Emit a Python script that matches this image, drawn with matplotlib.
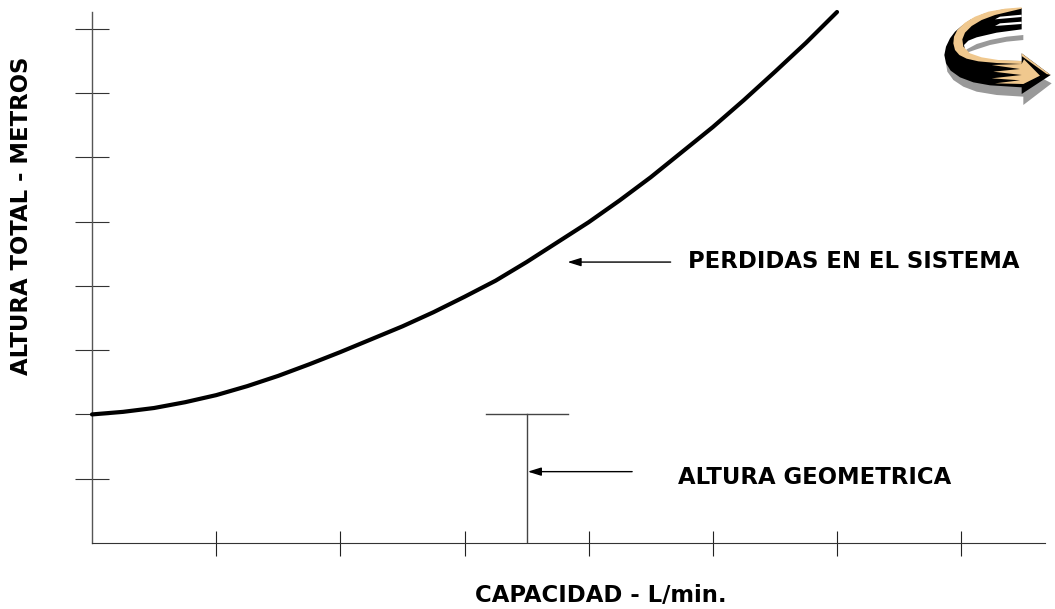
import matplotlib
matplotlib.use("Agg")
import matplotlib.pyplot as plt
from matplotlib.patches import Polygon

plt.rcParams['font.family'] = ['DejaVu Sans']

W, H = 1055, 609

# curve, axis units = one tick
capacidad = [0, 0.25, 0.5, 0.75, 1, 1.25, 1.5, 1.75, 2, 2.25, 2.5, 2.75, 3, 3.25, 3.5, 3.75, 4, 4.25, 4.5, 4.75,
             5, 5.25, 5.5, 5.75, 6]
altura = [2.0, 2.04, 2.10, 2.19, 2.30, 2.44, 2.60, 2.78, 2.97, 3.17, 3.37, 3.59, 3.83, 4.08, 4.37, 4.68, 4.99,
          5.33, 5.69, 6.08, 6.47, 6.89, 7.33, 7.78, 8.26]
x_ticks = [1, 2, 3, 4, 5, 6, 7]
y_ticks = [1, 2, 3, 4, 5, 6, 7, 8]
x_max = 7.675
y_max = 8.26

# geometric head marker
geo_x = 3.5
geo_y = 2
geo_left = 3.17
geo_right = 3.83

# icon outlines, in pixels of a 405x345 crop
icon_shadow = [(78, 190), (82, 215), (100, 240), (130, 260), (170, 275), (230, 285), (310, 290), (310, 315),
               (395, 250), (310, 205)]
icon_crescent = [(310, 105), (260, 110), (210, 120), (170, 132), (140, 148), (135, 160), (170, 148), (210, 135),
                 (260, 125), (310, 120)]
icon_body = [(105, 95), (90, 115), (78, 140), (73, 165), (78, 190), (92, 212), (120, 232), (160, 247), (210, 256),
             (305, 262), (305, 282), (392, 225), (305, 160), (305, 183), (235, 182), (185, 177), (150, 165),
             (135, 150), (132, 135), (145, 122), (170, 112), (230, 98), (305, 88), (305, 24), (240, 30), (190, 42),
             (150, 60), (125, 78)]
icon_tan_top = [(305, 22), (255, 26), (205, 35), (165, 50), (135, 68), (112, 90), (102, 110), (100, 130), (105, 150),
                (118, 165), (140, 176), (175, 184), (230, 189), (305, 192), (305, 183), (235, 180), (185, 172),
                (150, 160), (130, 140), (127, 118), (135, 98), (155, 78), (185, 60), (225, 45), (305, 26)]
icon_tan_head = [(305, 192), (215, 195), (300, 207), (220, 215), (305, 225), (215, 235), (300, 241), (225, 250),
                 (310, 252), (360, 227), (312, 178)]
icon_edge = [(305, 160), (392, 225), (380, 222), (305, 168)]
icon_slits = [[(305, 44), (240, 50), (225, 58), (305, 51)],
              [(305, 65), (240, 70), (225, 78), (305, 72)]]

fig = plt.figure(figsize=(W / 100, H / 100), dpi=100)
ax = fig.add_axes([92 / W, 1 - 543 / H, (1045 - 92) / W, (543 - 12) / H])

ax.plot(capacidad, altura, color='black', lw=3, solid_capstyle='round', clip_on=False, zorder=3)
ax.plot([geo_left, geo_right], [geo_y, geo_y], color='#444444', lw=1)
ax.plot([geo_x, geo_x], [0, geo_y], color='#444444', lw=1)

ax.set_xlim(0, x_max)
ax.set_ylim(0, y_max)
ax.set_xticks(x_ticks)
ax.set_yticks(y_ticks)
ax.set_xticklabels([])
ax.set_yticklabels([])
ax.tick_params(axis='x', direction='inout', length=18, width=0.8, color='#222222')
ax.tick_params(axis='y', direction='inout', length=24, width=0.8, color='#333333')
for s in ['top', 'right']:
    ax.spines[s].set_visible(False)
ax.spines['left'].set_color('#555555')
ax.spines['left'].set_linewidth(1)
ax.spines['bottom'].set_color('#333333')
ax.spines['bottom'].set_linewidth(0.8)

arrow = dict(arrowstyle='-|>,head_width=0.25,head_length=0.8', color='black', lw=1, shrinkA=0, shrinkB=0)
ax.annotate('', xy=(3.83, 4.37), xytext=(4.66, 4.37), arrowprops=arrow)
ax.annotate('', xy=(3.51, 1.11), xytext=(4.35, 1.11), arrowprops=arrow)

fs = 16.4
fig.text(854 / W, 1 - 262 / H, 'PERDIDAS EN EL SISTEMA', fontsize=fs, fontweight='bold', ha='center', va='center')
fig.text(815 / W, 1 - 478 / H, 'ALTURA GEOMETRICA', fontsize=fs, fontweight='bold', ha='center', va='center')
fig.text(601 / W, 1 - 596 / H, 'CAPACIDAD - L/min.', fontsize=fs, fontweight='bold', ha='center', va='center')
fig.text(22 / W, 1 - 216 / H, 'ALTURA TOTAL - METROS', fontsize=fs, fontweight='bold', ha='center', va='center',
         rotation=90)

icon = fig.add_axes([920 / W, 1 - 115 / H, 135 / W, 115 / H])
icon.set_xlim(0, 405)
icon.set_ylim(345, 0)
icon.axis('off')
icon.add_patch(Polygon(icon_shadow, color='#999999', lw=0))
icon.add_patch(Polygon(icon_crescent, color='#999999', lw=0))
icon.add_patch(Polygon(icon_body, color='black', lw=0))
icon.add_patch(Polygon(icon_tan_top, color='#F0C88E', lw=0))
icon.add_patch(Polygon(icon_tan_head, color='#F0C88E', lw=0))
icon.add_patch(Polygon(icon_edge, color='#F0C88E', lw=0))
for slit in icon_slits:
    icon.add_patch(Polygon(slit, color='white', lw=0))

fig.savefig('out.png', dpi=100)
